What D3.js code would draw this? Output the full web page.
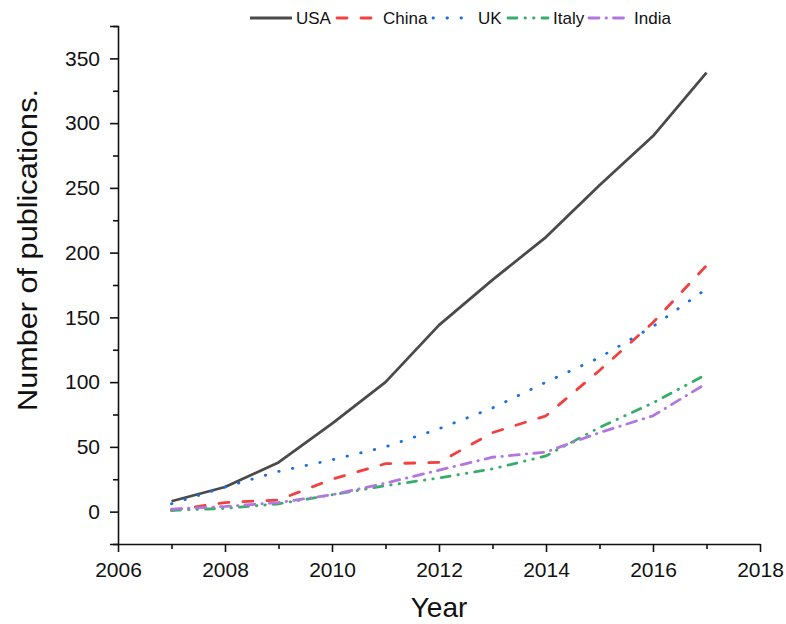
<!DOCTYPE html>
<html>
<head>
<meta charset="utf-8">
<script src="https://cdn.jsdelivr.net/npm/d3@7"></script>
<style>
  html, body { margin: 0; padding: 0; background: #fff; }
  svg { display: block; font-family: "Liberation Sans", Arial, sans-serif; }
</style>
</head>
<body>
<svg id="chart" width="786" height="624"></svg>
<script>
// Publications per year, 2007–2017
const years = [2007, 2008, 2009, 2010, 2011, 2012, 2013, 2014, 2015, 2016, 2017];
const usa   = [8, 19, 38, 68, 100, 144, 179, 212, 252, 290, 339];
const china = [1, 7, 9, 25, 37, 38, 61, 74, 109, 146, 190];
const uk    = [6, 19, 31, 40, 50, 64, 80, 100, 119, 143, 172];
const italy = [1, 2.5, 6, 13, 20, 26, 33, 43, 65, 84, 106];
const india = [2, 4, 7, 13, 22, 32, 42, 46, 61, 74, 99];
const seriesNames = ["USA", "China", "UK", "Italy", "India"];
const xTicks = [2006, 2008, 2010, 2012, 2014, 2016, 2018];
const yTicks = [0, 50, 100, 150, 200, 250, 300, 350];

const seriesValues = [usa, china, uk, italy, india];
const colors = ["#4a4a4a", "#f14040", "#1a6fdf", "#37ad6b", "#b177de"];
const dashes = [null, "10,14", "0.5,13.5", "9,8,0.5,8,0.5,8", "10,7,0.5,7"];

const svg = d3.select("#chart");

const x = d3.scaleLinear().domain([2006, 2018]).range([118, 760]);
const y = d3.scaleLinear().domain([-25, 375]).range([544, 26]);

// minor ticks
const xMinor = d3.range(2007, 2018, 2);
const yMinor = d3.range(-25, 376, 50);

const axisG = svg.append("g");

axisG.append("g")
  .attr("transform", `translate(0,${y(-25)})`)
  .call(d3.axisBottom(x).tickValues(xMinor).tickSize(5).tickFormat(""))
  .call(g => g.select(".domain").remove());
axisG.append("g")
  .attr("transform", `translate(${x(2006)},0)`)
  .call(d3.axisLeft(y).tickValues(yMinor).tickSize(5).tickFormat(""))
  .call(g => g.select(".domain").remove());

axisG.append("g")
  .attr("transform", `translate(0,${y(-25)})`)
  .call(d3.axisBottom(x).tickValues(xTicks).tickFormat(d3.format("d"))
        .tickSize(8).tickSizeOuter(0).tickPadding(10));
axisG.append("g")
  .attr("transform", `translate(${x(2006)},0)`)
  .call(d3.axisLeft(y).tickValues(yTicks).tickSize(8).tickSizeOuter(8).tickPadding(10));

axisG.selectAll("path.domain, line").attr("stroke", "#111").attr("stroke-width", 1.6);
axisG.selectAll("text")
  .attr("fill", "#111")
  .style("font-size", "21px")
  .style("font-family", "'Liberation Sans', Arial, sans-serif");

// axis titles
svg.append("text")
  .attr("x", 439).attr("y", 617)
  .attr("text-anchor", "middle")
  .style("font-size", "28px")
  .attr("fill", "#111")
  .text("Year");
svg.append("text")
  .attr("transform", "translate(37,250) rotate(-90)")
  .attr("text-anchor", "middle")
  .attr("textLength", 322)
  .attr("lengthAdjust", "spacingAndGlyphs")
  .style("font-size", "28px")
  .attr("fill", "#111")
  .text("Number of publications.");

// lines
const line = d3.line()
  .x((d, i) => x(years[i]))
  .y(d => y(d));

seriesValues.forEach((vals, k) => {
  svg.append("path")
    .datum(vals)
    .attr("d", line)
    .attr("fill", "none")
    .attr("stroke", colors[k])
    .attr("stroke-width", 2.8)
    .attr("stroke-linecap", k === 0 ? "butt" : "round")
    .attr("stroke-linejoin", "round")
    .attr("stroke-dasharray", dashes[k]);
});

// legend
const legendItems = [
  { x0: 250, x1: 292, tx: 296 },
  { x0: 337, x1: 374, tx: 383 },
  { x0: 433, x1: 468, tx: 478 },
  { x0: 508, x1: 548, tx: 553 },
  { x0: 589, x1: 627, tx: 634 }
];
const legend = svg.append("g");
legendItems.forEach((it, k) => {
  legend.append("line")
    .attr("x1", it.x0).attr("x2", it.x1)
    .attr("y1", 18).attr("y2", 18)
    .attr("stroke", colors[k])
    .attr("stroke-width", 2.8)
    .attr("stroke-linecap", k === 0 ? "butt" : "round")
    .attr("stroke-dasharray", dashes[k]);
  legend.append("text")
    .attr("x", it.tx).attr("y", 24)
    .style("font-size", "17px")
    .attr("fill", "#111")
    .text(seriesNames[k]);
});
</script>
</body>
</html>
